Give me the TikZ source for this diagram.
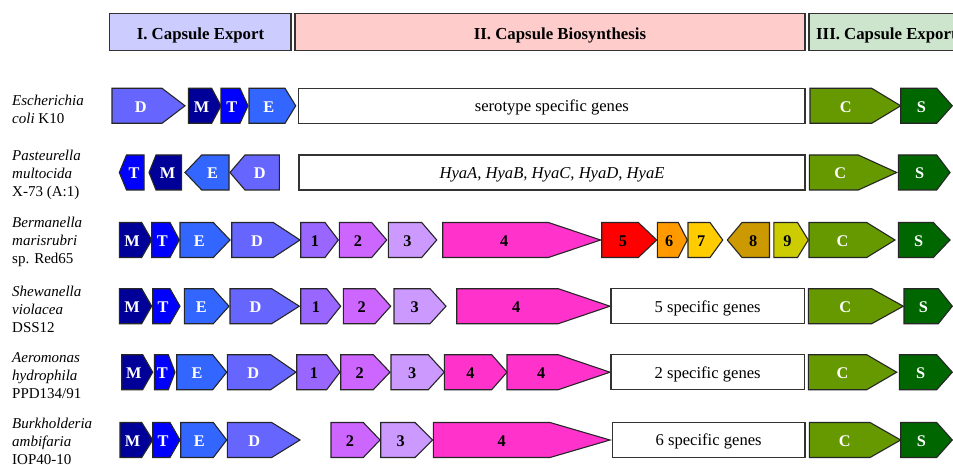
\documentclass[tikz,border=0pt]{standalone}
\usepackage{fontspec}
\setmainfont{Liberation Serif}
\definecolor{hdrI}{HTML}{CCCCFF}
\definecolor{hdrII}{HTML}{FFCCCC}
\definecolor{hdrIII}{HTML}{CCE5CC}
\definecolor{gD}{HTML}{6666FF}
\definecolor{gM}{HTML}{000099}
\definecolor{gT}{HTML}{0000FF}
\definecolor{gE}{HTML}{3366FF}
\definecolor{gone}{HTML}{9966FF}
\definecolor{gtwo}{HTML}{CC66FF}
\definecolor{gthree}{HTML}{CC99FF}
\definecolor{gfour}{HTML}{FF33CC}
\definecolor{gfive}{HTML}{FF0000}
\definecolor{gsix}{HTML}{FF9900}
\definecolor{gseven}{HTML}{FFCC00}
\definecolor{geight}{HTML}{CC9900}
\definecolor{gnine}{HTML}{CCCC00}
\definecolor{gC}{HTML}{669900}
\definecolor{gS}{HTML}{006600}
\tikzset{
  genebox/.style={draw=black!85, line width=1.1pt, line join=miter},
  genelabel/.style={font=\fontsize{16.3}{18}\selectfont\bfseries, inner sep=0pt, anchor=base},
  hdrbox/.style={draw=black!80, line width=1.1pt},
  hdrtext/.style={font=\fontsize{16.8}{18}\selectfont\bfseries, inner sep=0pt, anchor=base},
  plainbox/.style={draw=black!80, line width=1.1pt, fill=white},
  plaintext/.style={font=\fontsize{16.6}{18}\selectfont, inner sep=0pt, anchor=base},
  species/.style={font=\fontsize{15}{18}\selectfont, align=left, anchor=west, inner sep=0pt}
}
% right-pointing gene: name, x0, xbody, xtip, ycentre, fill, textcolour, label
\newcommand\geneR[8]{%
  \draw[genebox, fill=#6] (#2,#5-17.5) -- (#3,#5-17.5) -- (#4,#5) -- (#3,#5+17.5) -- (#2,#5+17.5) -- cycle;
  \node[genelabel, text=#7] (#1) at ({(#2+#3)/2+(#4-#3)/6},#5+6.3) {#8};}
% left-pointing gene: name, xtip, xbody, x1, ycentre, fill, textcolour, label
\newcommand\geneL[8]{%
  \draw[genebox, fill=#6] (#4,#5-17.5) -- (#3,#5-17.5) -- (#2,#5) -- (#3,#5+17.5) -- (#4,#5+17.5) -- cycle;
  \node[genelabel, text=#7] (#1) at ({(#3+#4)/2-(#3-#2)/6},#5+6.3) {#8};}
% plain gene block: name, x0, x1, ycentre, text
\newcommand\geneBlock[5]{%
  \draw[plainbox] (#2,#4-17.5) rectangle (#3,#4+17.5);
  \node[plaintext] (#1) at ({(#2+#3)/2},#4+5.8) {#5};}
\begin{document}
\begin{tikzpicture}[x=1pt,y=-1pt]
\clip (0,0) rectangle (953,465);
\fill[white] (0,0) rectangle (953,465);
% headers
\draw[hdrbox, fill=hdrI] (109.5,13.5) rectangle (291,50.5);
\node[hdrtext] (h1) at (200.5,39.5) {I. Capsule Export};
\draw[hdrbox, fill=hdrII] (295,13.5) rectangle (805,50.5);
\node[hdrtext] (h2) at (560,39.5) {II. Capsule Biosynthesis};
\draw[hdrbox, fill=hdrIII] (809,13.5) rectangle (1010,50.5);
\node[hdrtext, anchor=base west] (h3) at (816,39.5) {III. Capsule Export};
% species
\node[species] (s1) at (12,109) {\textit{Escherichia}\\\textit{coli} K10};
\node[species] (s2) at (12,174.5) {\textit{Pasteurella}\\\textit{multocida}\\X-73 (A:1)};
\node[species] (s3) at (12,241.5) {\textit{Bermanella}\\\textit{marisrubri}\\sp. Red65};
\node[species] (s4) at (12,309.3) {\textit{Shewanella}\\\textit{violacea}\\DSS12};
\node[species] (s5) at (12,375.3) {\textit{Aeromonas}\\\textit{hydrophila}\\PPD134/91};
\node[species] (s6) at (12,441.2) {\textit{Burkholderia}\\\textit{ambifaria}\\IOP40-10};
% row 1
\geneR{r1D}{112}{162}{185}{105.8}{gD}{white}{D}
\geneR{r1M}{188.3}{211.7}{221}{105.8}{gM}{white}{M}
\geneR{r1T}{221}{240}{248}{105.8}{gT}{white}{T}
\geneR{r1E}{249}{285}{295.7}{105.8}{gE}{white}{E}
\geneBlock{r1box}{298.7}{805}{105.8}{serotype specific genes}
\geneR{r1C}{810}{871.7}{900.7}{105.8}{gC}{white}{C}
\geneR{r1S}{900.7}{936.7}{952.3}{105.8}{gS}{white}{S}
% row 2
\geneL{r2T}{119.3}{126.5}{144}{172.5}{gT}{white}{T}
\geneL{r2M}{149}{156}{181.5}{172.5}{gM}{white}{M}
\geneL{r2E}{185}{201.7}{229}{172.5}{gE}{white}{E}
\geneL{r2D}{230}{245}{279.3}{172.5}{gD}{white}{D}
\geneBlock{r2box}{299}{805}{172.5}{\textit{HyaA, HyaB, HyaC, HyaD, HyaE}}
\geneR{r2C}{809.3}{858.3}{896.7}{172.5}{gC}{white}{C}
\geneR{r2S}{898.3}{936.7}{950}{172.5}{gS}{white}{S}
% row 3
\geneR{r3M}{119.3}{141.7}{151.7}{240}{gM}{white}{M}
\geneR{r3T}{151.7}{170}{179.3}{240}{gT}{white}{T}
\geneR{r3E}{180}{213.3}{230}{240}{gE}{white}{E}
\geneR{r3D}{231.7}{273.3}{300}{240}{gD}{white}{D}
\geneR{r3g1}{300.7}{325}{338.3}{240}{gone}{black}{1}
\geneR{r3g2}{339.3}{371.7}{386.7}{240}{gtwo}{black}{2}
\geneR{r3g3}{388.3}{421.7}{436.7}{240}{gthree}{black}{3}
\geneR{r3g4}{442.7}{548.3}{600.7}{240}{gfour}{black}{4}
\geneR{r3g5}{601.7}{638.3}{656.7}{240}{gfive}{black}{5}
\geneR{r3g6}{657.3}{678.3}{687.3}{240}{gsix}{black}{6}
\geneR{r3g7}{688}{710}{722.7}{240}{gseven}{black}{7}
\geneL{r3g8}{727.3}{742}{769.5}{240}{geight}{black}{8}
\geneR{r3g9}{773.8}{797.5}{808.3}{240}{gnine}{black}{9}
\geneR{r3C}{809}{866.7}{895}{240}{gC}{white}{C}
\geneR{r3S}{898.3}{933.3}{950}{240}{gS}{white}{S}
% row 4
\geneR{r4M}{119.3}{141.7}{151.7}{306.2}{gM}{white}{M}
\geneR{r4T}{152.7}{170}{180}{306.2}{gT}{white}{T}
\geneR{r4E}{184.3}{213.3}{229}{306.2}{gE}{white}{E}
\geneR{r4D}{230}{271.7}{299.3}{306.2}{gD}{white}{D}
\geneR{r4g1}{300.7}{326.7}{340.7}{306.2}{gone}{black}{1}
\geneR{r4g2}{343.3}{375}{390.7}{306.2}{gtwo}{black}{2}
\geneR{r4g3}{394}{430}{446}{306.2}{gthree}{black}{3}
\geneR{r4g4}{456.7}{558.3}{610}{306.2}{gfour}{black}{4}
\geneBlock{r4box}{611}{804.3}{306.2}{5 specific genes}
\geneR{r4C}{808.3}{871.7}{903.3}{306.2}{gC}{white}{C}
\geneR{r4S}{904}{938.3}{952.3}{306.2}{gS}{white}{S}
% row 5
\geneR{r5M}{121.7}{142.7}{152.7}{372.2}{gM}{white}{M}
\geneR{r5T}{154.3}{168.3}{175}{372.2}{gT}{white}{T}
\geneR{r5E}{176.7}{212.7}{226.7}{372.2}{gE}{white}{E}
\geneR{r5D}{227.3}{270.7}{296}{372.2}{gD}{white}{D}
\geneR{r5g1}{296.7}{326.7}{340}{372.2}{gone}{black}{1}
\geneR{r5g2}{340.7}{373.3}{390}{372.2}{gtwo}{black}{2}
\geneR{r5g3}{391}{428.3}{444.3}{372.2}{gthree}{black}{3}
\geneR{r5g4a}{444.3}{491.7}{507}{372.2}{gfour}{black}{4}
\geneR{r5g4b}{507}{558.3}{610}{372.2}{gfour}{black}{4}
\geneBlock{r5box}{611}{804.3}{372.2}{2 specific genes}
\geneR{r5C}{808.3}{866.7}{896.7}{372.2}{gC}{white}{C}
\geneR{r5S}{899.3}{936.7}{952.3}{372.2}{gS}{white}{S}
% row 6
\geneR{r6M}{120}{141.7}{152.7}{440}{gM}{white}{M}
\geneR{r6T}{152.7}{170}{180}{440}{gT}{white}{T}
\geneR{r6E}{180.7}{213.3}{226.7}{440}{gE}{white}{E}
\geneR{r6D}{227.3}{271.7}{300}{440}{gD}{white}{D}
\geneR{r6g2}{331}{363.3}{380}{440}{gtwo}{black}{2}
\geneR{r6g3}{380.7}{415}{432.7}{440}{gthree}{black}{3}
\geneR{r6g4}{433.3}{550}{610}{440}{gfour}{black}{4}
\geneBlock{r6box}{612.3}{805}{440}{6 specific genes}
\geneR{r6C}{809.3}{870}{900.7}{440}{gC}{white}{C}
\geneR{r6S}{900.7}{936.7}{952.3}{440}{gS}{white}{S}
\end{tikzpicture}
\end{document}
